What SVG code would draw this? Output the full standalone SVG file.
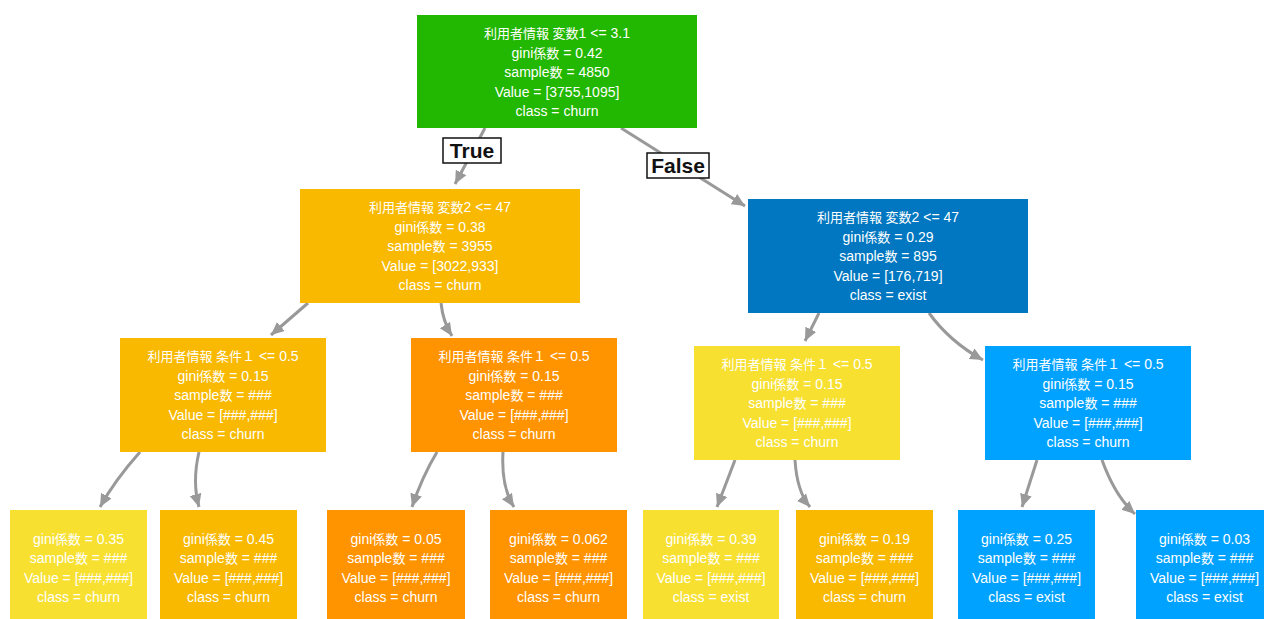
<svg xmlns="http://www.w3.org/2000/svg" width="1264" height="619" viewBox="0 0 1264 619">
<defs>
<style>
.t{font-family:"Liberation Sans","Noto Sans CJK JP",sans-serif;font-size:14px;fill:#fff;text-anchor:middle}
.j{font-size:13px}
.c{fill:none;stroke:#999;stroke-width:3}
.lb{fill:#fff;stroke:#111;stroke-width:1.5}
.lt{font-family:"Liberation Sans",sans-serif;font-size:21px;font-weight:bold;fill:#111;text-anchor:middle}
.green{fill:#22b700}.amber{fill:#f8b900}.orange{fill:#ff9300}.yellow{fill:#f7e030}.navy{fill:#0077c0}.blue{fill:#00a2ff}
</style>
<marker id="ah" markerUnits="userSpaceOnUse" markerWidth="14" markerHeight="14" viewBox="0 0 14 14" refX="13" refY="7" orient="auto">
<path d="M0,1 L13,7 L0,13 Z" fill="#999"/>
</marker>
</defs>
<rect width="1264" height="619" fill="#fff"/>

<g id="connectors">
<path class="c" d="M485,128 L455,184" marker-end="url(#ah)"/>
<path class="c" d="M621,128 L745,206" marker-end="url(#ah)"/>
<path class="c" d="M308,303 L271,335" marker-end="url(#ah)"/>
<path class="c" d="M441,303 Q443,322 452,336" marker-end="url(#ah)"/>
<path class="c" d="M819,313 L805,341" marker-end="url(#ah)"/>
<path class="c" d="M929,313 Q950,342 983,360" marker-end="url(#ah)"/>
<path class="c" d="M140,452 Q115,480 100,507" marker-end="url(#ah)"/>
<path class="c" d="M199,452 Q192,482 199,507" marker-end="url(#ah)"/>
<path class="c" d="M437,452 Q422,477 412,507" marker-end="url(#ah)"/>
<path class="c" d="M503,452 Q501,487 514,507" marker-end="url(#ah)"/>
<path class="c" d="M735,460 L717,507" marker-end="url(#ah)"/>
<path class="c" d="M795,460 Q797,492 810,507" marker-end="url(#ah)"/>
<path class="c" d="M1037,460 L1022,507" marker-end="url(#ah)"/>
<path class="c" d="M1102,460 Q1115,496 1135,514" marker-end="url(#ah)"/>
</g>

<g id="label-true">
<rect class="lb" x="443" y="138" width="58" height="25"/>
<text class="lt" x="472" y="158">True</text>
</g>
<g id="label-false">
<rect class="lb" x="647" y="153" width="62" height="25"/>
<text class="lt" x="678" y="173">False</text>
</g>

<g id="root">
<rect class="green" x="417" y="15" width="280" height="113"/>
<text class="t" x="557" y="38"><tspan class="j">利用者情報 変数</tspan>1 &lt;= 3.1</text>
<text class="t" x="557" y="58">gini<tspan class="j">係数</tspan> = 0.42</text>
<text class="t" x="557" y="77">sample<tspan class="j">数</tspan> = 4850</text>
<text class="t" x="557" y="97">Value = [3755,1095]</text>
<text class="t" x="557" y="116">class = churn</text>
</g>

<g id="n-true">
<rect class="amber" x="300" y="189" width="280" height="114"/>
<text class="t" x="440" y="212"><tspan class="j">利用者情報 変数</tspan>2 &lt;= 47</text>
<text class="t" x="440" y="232">gini<tspan class="j">係数</tspan> = 0.38</text>
<text class="t" x="440" y="251">sample<tspan class="j">数</tspan> = 3955</text>
<text class="t" x="440" y="271">Value = [3022,933]</text>
<text class="t" x="440" y="290">class = churn</text>
</g>

<g id="n-false">
<rect class="navy" x="748" y="199" width="280" height="114"/>
<text class="t" x="888" y="222"><tspan class="j">利用者情報 変数</tspan>2 &lt;= 47</text>
<text class="t" x="888" y="242">gini<tspan class="j">係数</tspan> = 0.29</text>
<text class="t" x="888" y="261">sample<tspan class="j">数</tspan> = 895</text>
<text class="t" x="888" y="281">Value = [176,719]</text>
<text class="t" x="888" y="300">class = exist</text>
</g>

<g id="n-l2a">
<rect class="amber" x="120" y="338" width="206" height="114"/>
<text class="t" x="223" y="361"><tspan class="j">利用者情報 条件１</tspan> &lt;= 0.5</text>
<text class="t" x="223" y="381">gini<tspan class="j">係数</tspan> = 0.15</text>
<text class="t" x="223" y="400">sample<tspan class="j">数</tspan> = ###</text>
<text class="t" x="223" y="420">Value = [###,###]</text>
<text class="t" x="223" y="439">class = churn</text>
</g>

<g id="n-l2b">
<rect class="orange" x="411" y="338" width="206" height="114"/>
<text class="t" x="514" y="361"><tspan class="j">利用者情報 条件１</tspan> &lt;= 0.5</text>
<text class="t" x="514" y="381">gini<tspan class="j">係数</tspan> = 0.15</text>
<text class="t" x="514" y="400">sample<tspan class="j">数</tspan> = ###</text>
<text class="t" x="514" y="420">Value = [###,###]</text>
<text class="t" x="514" y="439">class = churn</text>
</g>

<g id="n-r2a">
<rect class="yellow" x="694" y="346" width="206" height="114"/>
<text class="t" x="797" y="369"><tspan class="j">利用者情報 条件１</tspan> &lt;= 0.5</text>
<text class="t" x="797" y="389">gini<tspan class="j">係数</tspan> = 0.15</text>
<text class="t" x="797" y="408">sample<tspan class="j">数</tspan> = ###</text>
<text class="t" x="797" y="428">Value = [###,###]</text>
<text class="t" x="797" y="447">class = churn</text>
</g>

<g id="n-r2b">
<rect class="blue" x="985" y="346" width="206" height="114"/>
<text class="t" x="1088" y="369"><tspan class="j">利用者情報 条件１</tspan> &lt;= 0.5</text>
<text class="t" x="1088" y="389">gini<tspan class="j">係数</tspan> = 0.15</text>
<text class="t" x="1088" y="408">sample<tspan class="j">数</tspan> = ###</text>
<text class="t" x="1088" y="428">Value = [###,###]</text>
<text class="t" x="1088" y="447">class = churn</text>
</g>

<g id="leaf1">
<rect class="yellow" x="10" y="510" width="137" height="115"/>
<text class="t" x="78.5" y="544">gini<tspan class="j">係数</tspan> = 0.35</text>
<text class="t" x="78.5" y="563">sample<tspan class="j">数</tspan> = ###</text>
<text class="t" x="78.5" y="583">Value = [###,###]</text>
<text class="t" x="78.5" y="602">class = churn</text>
</g>
<g id="leaf2">
<rect class="amber" x="160" y="510" width="137" height="115"/>
<text class="t" x="228.5" y="544">gini<tspan class="j">係数</tspan> = 0.45</text>
<text class="t" x="228.5" y="563">sample<tspan class="j">数</tspan> = ###</text>
<text class="t" x="228.5" y="583">Value = [###,###]</text>
<text class="t" x="228.5" y="602">class = churn</text>
</g>
<g id="leaf3">
<rect class="orange" x="327" y="510" width="138" height="115"/>
<text class="t" x="396" y="544">gini<tspan class="j">係数</tspan> = 0.05</text>
<text class="t" x="396" y="563">sample<tspan class="j">数</tspan> = ###</text>
<text class="t" x="396" y="583">Value = [###,###]</text>
<text class="t" x="396" y="602">class = churn</text>
</g>
<g id="leaf4">
<rect class="orange" x="490" y="510" width="137" height="115"/>
<text class="t" x="558.5" y="544">gini<tspan class="j">係数</tspan> = 0.062</text>
<text class="t" x="558.5" y="563">sample<tspan class="j">数</tspan> = ###</text>
<text class="t" x="558.5" y="583">Value = [###,###]</text>
<text class="t" x="558.5" y="602">class = churn</text>
</g>
<g id="leaf5">
<rect class="yellow" x="643" y="510" width="136" height="115"/>
<text class="t" x="711" y="544">gini<tspan class="j">係数</tspan> = 0.39</text>
<text class="t" x="711" y="563">sample<tspan class="j">数</tspan> = ###</text>
<text class="t" x="711" y="583">Value = [###,###]</text>
<text class="t" x="711" y="602">class = exist</text>
</g>
<g id="leaf6">
<rect class="amber" x="796" y="510" width="137" height="115"/>
<text class="t" x="864.5" y="544">gini<tspan class="j">係数</tspan> = 0.19</text>
<text class="t" x="864.5" y="563">sample<tspan class="j">数</tspan> = ###</text>
<text class="t" x="864.5" y="583">Value = [###,###]</text>
<text class="t" x="864.5" y="602">class = churn</text>
</g>
<g id="leaf7">
<rect class="blue" x="958" y="510" width="137" height="115"/>
<text class="t" x="1026.5" y="544">gini<tspan class="j">係数</tspan> = 0.25</text>
<text class="t" x="1026.5" y="563">sample<tspan class="j">数</tspan> = ###</text>
<text class="t" x="1026.5" y="583">Value = [###,###]</text>
<text class="t" x="1026.5" y="602">class = exist</text>
</g>
<g id="leaf8">
<rect class="blue" x="1136" y="510" width="137" height="115"/>
<text class="t" x="1204.5" y="544">gini<tspan class="j">係数</tspan> = 0.03</text>
<text class="t" x="1204.5" y="563">sample<tspan class="j">数</tspan> = ###</text>
<text class="t" x="1204.5" y="583">Value = [###,###]</text>
<text class="t" x="1204.5" y="602">class = exist</text>
</g>
</svg>
